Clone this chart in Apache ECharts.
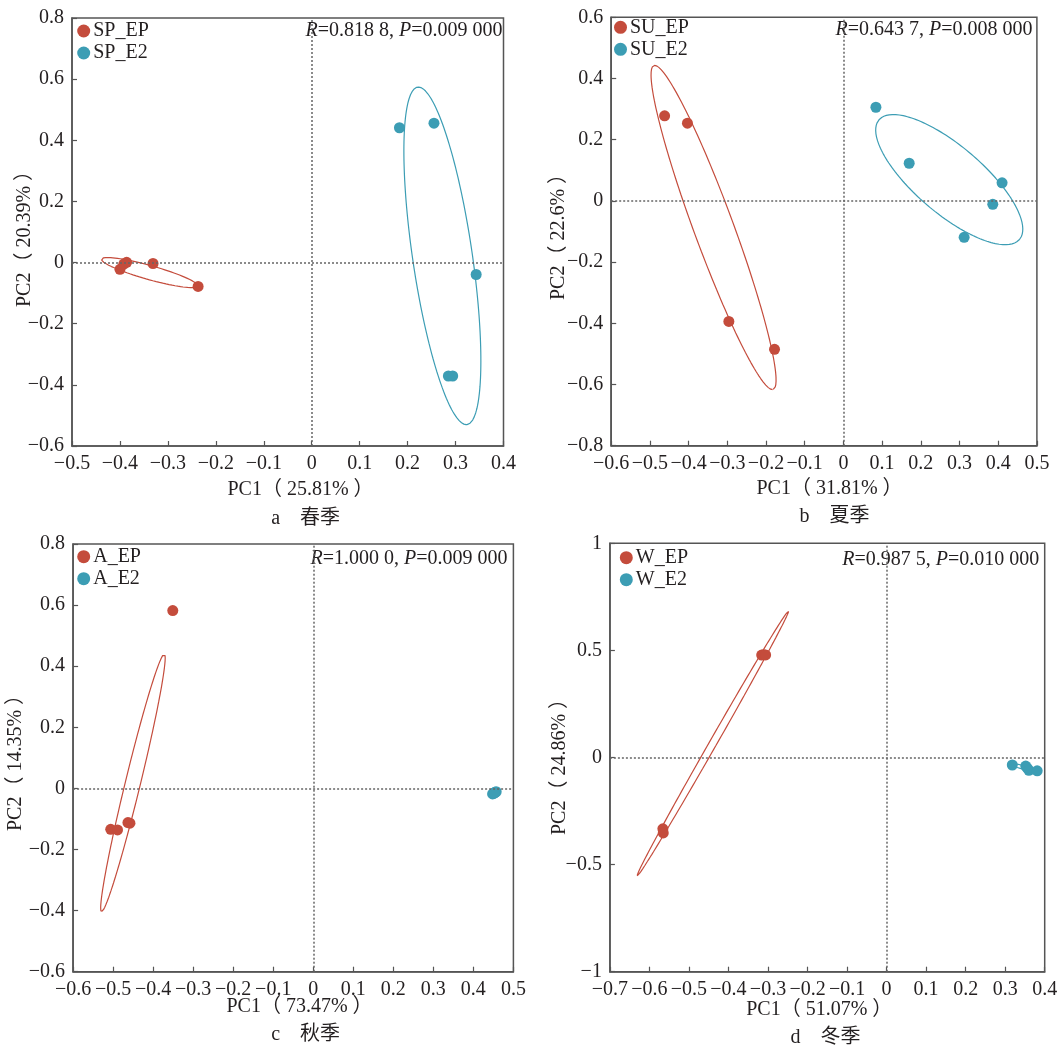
<!DOCTYPE html>
<html>
<head>
<meta charset="utf-8">
<script src="https://cdn.jsdelivr.net/npm/echarts@6/dist/echarts.min.js"></script>
<style>html,body{margin:0;padding:0;background:#fff}#c{width:1064px;height:1051px}</style>
</head>
<body>
<div id="c"></div>
<script>
// ---------- data ----------
// axis ranges: [min, max, interval]
const spX = [-0.5, 0.4, 0.1], spY = [-0.6, 0.8, 0.2];
const suX = [-0.6, 0.5, 0.1], suY = [-0.8, 0.6, 0.2];
const aX  = [-0.6, 0.5, 0.1], aY  = [-0.6, 0.8, 0.2];
const wX  = [-0.7, 0.4, 0.1], wY  = [-1, 1, 0.5];

// sample scores [PC1, PC2]
const spEP = [[-0.392,-0.005],[-0.386,0.001],[-0.400,-0.022],[-0.331,-0.003],[-0.237,-0.078]];
const spE2 = [[0.183,0.441],[0.255,0.456],[0.343,-0.039],[0.285,-0.371],[0.294,-0.371]];
const suEP = [[-0.462,0.278],[-0.403,0.254],[-0.296,-0.394],[-0.178,-0.485]];
const suE2 = [[0.084,0.306],[0.170,0.123],[0.410,0.059],[0.386,-0.011],[0.312,-0.119]];
const aEP  = [[-0.506,-0.134],[-0.489,-0.136],[-0.463,-0.112],[-0.458,-0.114],[-0.351,0.582]];
const aE2  = [[0.448,-0.018],[0.451,-0.016],[0.454,-0.013],[0.457,-0.011],[0.452,-0.015]];
const wEP  = [[-0.316,0.478],[-0.311,0.480],[-0.306,0.479],[-0.566,-0.333],[-0.565,-0.352]];
const wE2  = [[0.318,-0.035],[0.352,-0.040],[0.356,-0.050],[0.360,-0.060],[0.381,-0.062]];

// ellipses: [major-axis tip 1, major-axis tip 2, minor/major ratio (on screen)]
const spEPEll = [[-0.4386,0.0114],[-0.2374,-0.0769],0.14];
const spE2Ell = [[0.221,0.574],[0.324,-0.530],0.175];
const suEPEll = [[-0.4897,0.4425],[-0.1813,-0.6163],0.115];
const suE2Ell = [[0.092,0.265],[0.455,-0.126],0.365];
const aEPEll  = [[-0.372,0.440],[-0.529,-0.4036],0.057];
const wEPEll  = [[-0.248,0.684],[-0.631,-0.553],0.024];
const wE2Ell  = [[0.312,-0.030],[0.387,-0.066],0.12];

// texts
const names = [
  ['SP_EP','SP_E2'], ['SU_EP','SU_E2'], ['A_EP','A_E2'], ['W_EP','W_E2']
];
const stats = [['0.818 8','0.009 000'],['0.643 7','0.008 000'],['1.000 0','0.009 000'],['0.987 5','0.010 000']];
const pc1 = ['PC1（ 25.81% ）','PC1（ 31.81% ）','PC1（ 73.47% ）','PC1（ 51.07% ）'];
const pc2 = ['PC2（ 20.39% ）','PC2（ 22.6% ）','PC2（ 14.35% ）','PC2（ 24.86% ）'];
const captions = ['a　春季','b　夏季','c　秋季','d　冬季'];

// ---------- layout ----------
const RED = '#c44c3c', BLUE = '#3c9db4', TXT = '#231f20';
const FONT = "'Liberation Serif','Times New Roman','Noto Sans CJK SC',serif";
const grids = [
  {left:72, top:18, width:431.5, height:428},
  {left:611.2, top:17.3, width:425.7, height:428.4},
  {left:73.1, top:544, width:440.3, height:427.7},
  {left:609.9, top:543.3, width:434.8, height:428.4}
];
const ranges = [[spX,spY],[suX,suY],[aX,aY],[wX,wY]];
const pts = [[spEP,spE2],[suEP,suE2],[aEP,aE2],[wEP,wE2]];
const ells = [[spEPEll,spE2Ell],[suEPEll,suE2Ell],[aEPEll,null],[wEPEll,wE2Ell]];
const legendPos = [{left:77.2,top:21},{left:614,top:17.3},{left:77.2,top:546.7},{left:619.8,top:547.7}];
const statPos = [[502.5,31],[1032.5,30],[507.6,559],[1039.3,560]];
const xNamePos = [[300.5,490],[829.5,488.5],[299.5,1006.7],[819.3,1010]];
const yNamePos = [[24.4,234],[558.4,232],[16,758],[559.4,762]];
const capPos = [[305.6,519],[834.6,516.7],[305.6,1035],[825.4,1038]];

function fmt(v){ const r = Math.round(v*10)/10; return (r===0?'0':String(r)).replace('-','\u2212'); }

function ellipse(e, kx, ky){
  const [p1,p2,r] = e;
  const cx=(p1[0]+p2[0])/2, cy=(p1[1]+p2[1])/2;
  const ux=(p2[0]-p1[0])/2*kx, uy=(p2[1]-p1[1])/2*ky;
  const vx=-uy*r, vy=ux*r;
  const out=[];
  for(let i=0;i<=180;i++){
    const t=i/180*2*Math.PI, c=Math.cos(t), s=Math.sin(t);
    out.push([cx+(ux*c+vx*s)/kx, cy+(uy*c+vy*s)/ky]);
  }
  return out;
}

const option = {animation:false, backgroundColor:'#fff', grid:[], xAxis:[], yAxis:[], series:[], legend:[], graphic:[]};
grids.forEach((g,i)=>{
  option.grid.push(Object.assign({show:true, borderColor:'#555', borderWidth:1.5, backgroundColor:'transparent'}, g));
  const [xr,yr] = ranges[i];
  const common = {
    type:'value', gridIndex:i, splitLine:{show:false},
    axisLine:{show:true, onZero:false, lineStyle:{color:'#555', width:1.5}},
    axisTick:{show:true, inside:true, length:5, lineStyle:{color:'#555', width:1.2}},
    axisLabel:{fontSize:20, fontFamily:FONT, color:TXT, margin:8, formatter:fmt}
  };
  option.xAxis.push(Object.assign({}, common, {min:xr[0], max:xr[1], interval:xr[2]}));
  option.yAxis.push(Object.assign({}, common, {min:yr[0], max:yr[1], interval:yr[2]}));
  const kx = g.width/(xr[1]-xr[0]), ky = g.height/(yr[1]-yr[0]);
  [RED,BLUE].forEach((col,j)=>{
    if(ells[i][j]) option.series.push({
      type:'line', name:names[i][j]+'-ellipse', xAxisIndex:i, yAxisIndex:i,
      data:ellipse(ells[i][j],kx,ky), showSymbol:false, symbol:'none', silent:true,
      lineStyle:{color:col, width:1.2}, z:2
    });
  });
  [RED,BLUE].forEach((col,j)=>{
    const s = {
      type:'scatter', name:names[i][j], xAxisIndex:i, yAxisIndex:i,
      data:pts[i][j], symbolSize:11, itemStyle:{color:col, opacity:1}, z:3
    };
    if(j===0) s.markLine = {
      silent:true, symbol:'none', label:{show:false}, animation:false,
      lineStyle:{type:[2,2], color:'#666', width:1.5},
      data:[{xAxis:0},{yAxis:0}]
    };
    option.series.push(s);
  });
  option.legend.push({
    orient:'vertical', left:legendPos[i].left, top:legendPos[i].top, padding:0,
    itemWidth:13, itemHeight:13, itemGap:2, icon:'circle',
    data:names[i], textStyle:{fontSize:20, fontFamily:FONT, color:TXT, padding:[0,0,0,-2]},
    selectedMode:false
  });
  const tstyle = {fontSize:20, fontFamily:FONT, fill:TXT, align:'center', verticalAlign:'middle'};
  option.graphic.push({type:'text', x:statPos[i][0], y:statPos[i][1], silent:true,
    style:{text:'{i|R}=' + stats[i][0] + ', {i|P}=' + stats[i][1], fontSize:20, fontFamily:FONT, fill:TXT,
      align:'right', verticalAlign:'middle',
      rich:{i:{fontStyle:'italic', fontSize:20, fontFamily:FONT, fill:TXT}}}});
  option.graphic.push({type:'text', x:xNamePos[i][0], y:xNamePos[i][1], silent:true, style:Object.assign({text:pc1[i]}, tstyle)});
  option.graphic.push({type:'text', x:yNamePos[i][0], y:yNamePos[i][1], rotation:Math.PI/2, silent:true, style:Object.assign({text:pc2[i]}, tstyle)});
  option.graphic.push({type:'text', x:capPos[i][0], y:capPos[i][1], silent:true, style:Object.assign({text:captions[i]}, tstyle)});
});

const chart = echarts.init(document.getElementById('c'), null, {renderer:'canvas'});
chart.setOption(option);
</script>
</body>
</html>
